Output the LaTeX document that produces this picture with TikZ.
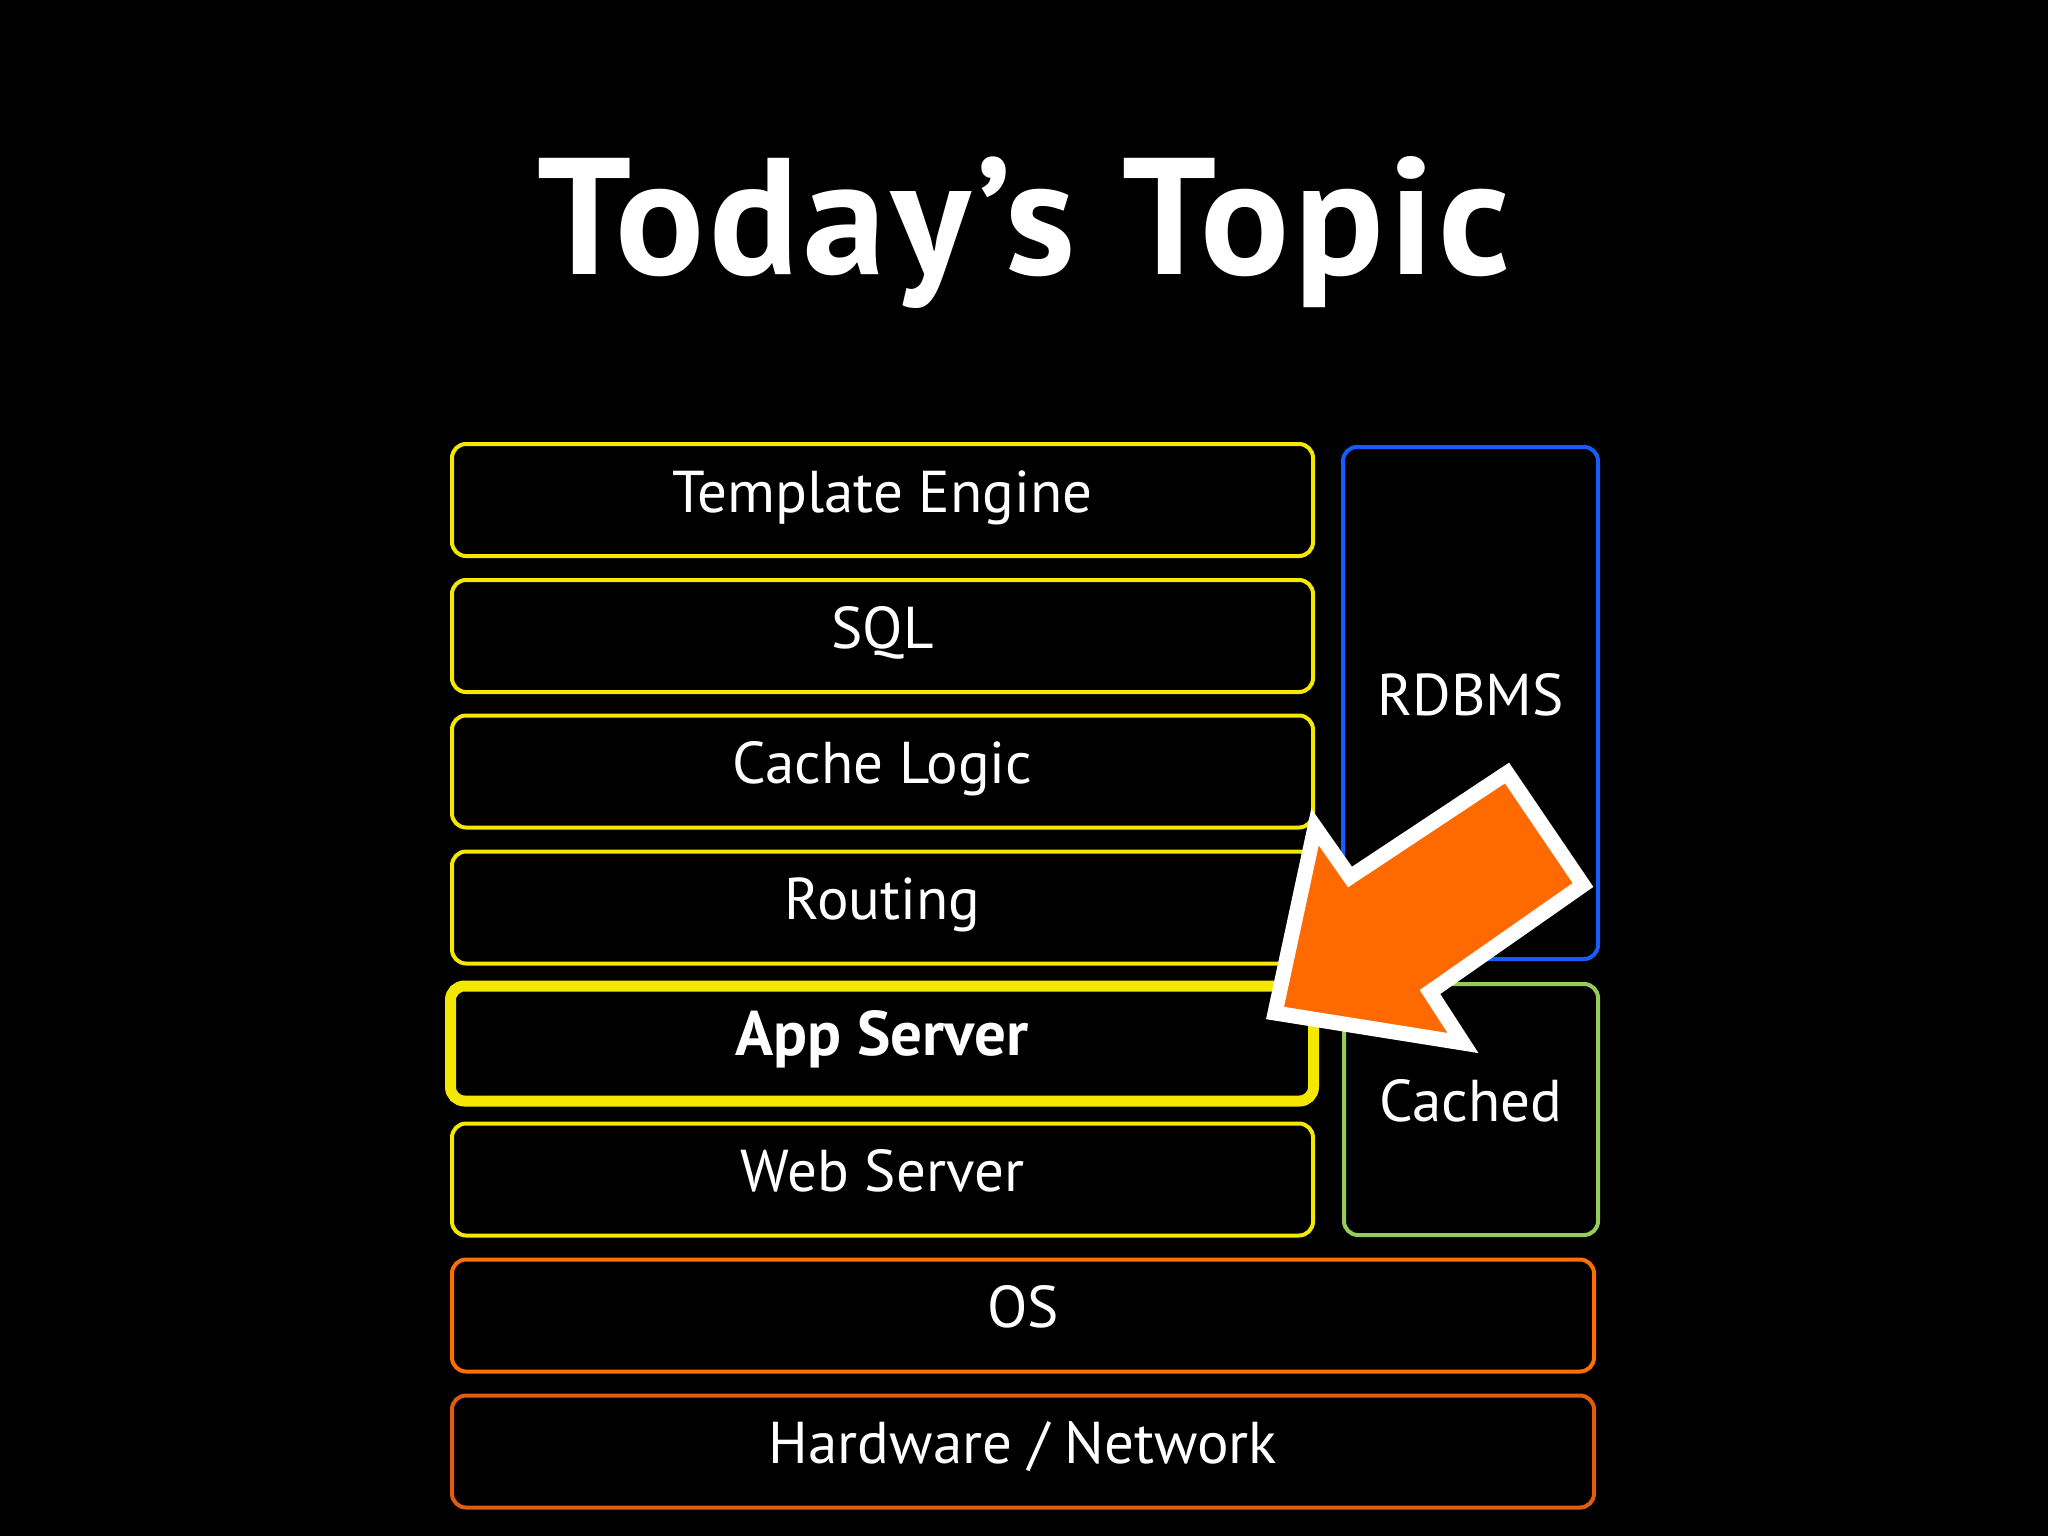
\documentclass[tikz,border=0pt]{standalone}
\usepackage{fontspec}
\setmainfont{PT Sans}
\definecolor{ylw}{RGB}{244,232,0}
\definecolor{blu}{RGB}{22,92,255}
\definecolor{grn}{RGB}{150,205,90}
\definecolor{orgA}{RGB}{255,110,0}
\definecolor{orgB}{RGB}{226,92,16}
\definecolor{arrowfill}{RGB}{255,106,0}
\begin{document}
\begin{tikzpicture}[x=1pt,y=-1pt,
  layer/.style={draw, line width=4pt, rounded corners=14pt, text=white,
    font=\fontsize{59}{70}\selectfont, text height=48pt, text depth=24pt,
    inner sep=0pt},
  ybox/.style={layer, draw=ylw, minimum width=861pt, minimum height=112pt},
  obox/.style={layer, minimum width=1142pt, minimum height=112pt}]
\fill[black] (0,0) rectangle (2048,1536);
\useasboundingbox (0,0) rectangle (2048,1536);

\node[anchor=base, text=white, font=\fontsize{166}{190}\selectfont\bfseries\addfontfeatures{LetterSpace=3}] (title) at (1024,274) {Today’s Topic};

\node[ybox] (te) at (882.5,500) {Template Engine};
\node[ybox] (sql) at (882.5,636) {SQL};
\node[ybox] (cl) at (882.5,771.5) {Cache Logic};
\node[ybox] (rt) at (882.5,907.5) {Routing};
\node[ybox, line width=11pt, minimum width=863pt, minimum height=115pt, font=\fontsize{63}{76}\selectfont\bfseries] (as) at (882,1043.5) {App Server};
\node[ybox] (ws) at (882.5,1179.5) {Web Server};
\node[obox, draw=orgA] (os) at (1023,1315.5) {OS};
\node[obox, draw=orgB] (hw) at (1023,1451.5) {Hardware / Network};

\node[layer, draw=blu, minimum width=255pt, minimum height=512pt] (db) at (1470.5,703) {RDBMS};
\node[layer, draw=grn, minimum width=254pt, minimum height=251pt] (ca) at (1471,1109.5) {Cached};

\filldraw[fill=arrowfill, draw=white, line width=15pt, line join=miter]
  (1275,1013) -- (1315,827) -- (1350,877) -- (1507,773) -- (1583,885)
  -- (1430,992) -- (1463,1043) -- cycle;
\end{tikzpicture}
\end{document}
